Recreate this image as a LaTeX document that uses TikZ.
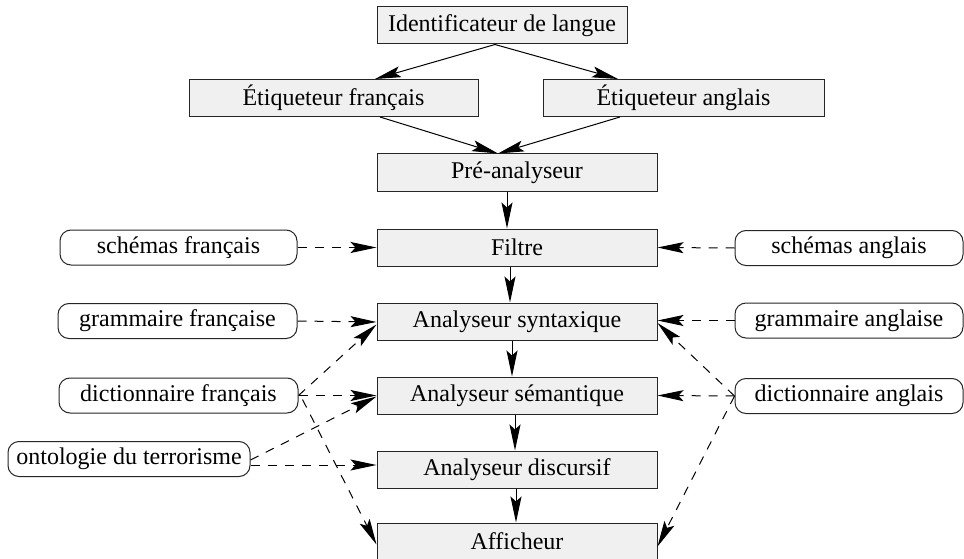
\documentclass[tikz,border=0pt]{standalone}
\usepackage{fontspec}
\setmainfont{Liberation Serif}
\usetikzlibrary{arrows.meta,calc}
\begin{document}
\begin{tikzpicture}[x=1pt,y=-1pt,
  every node/.style={font=\fontsize{24}{29}\selectfont, inner sep=0pt},
  procbox/.style={draw=black!85, line width=1pt, fill=black!6, minimum height=37pt},
  resbox/.style={draw=black!85, line width=1pt, rounded corners=11pt, fill=white, minimum height=35pt},
  flow/.style={line width=1pt, -{Stealth[length=26pt,width=11pt,inset=5pt]}},
  dflow/.style={flow, dash pattern=on 9pt off 8pt}]
\useasboundingbox (0,0) rectangle (964,559);
% processing chain
\node[procbox, minimum width=250pt] (ident) at (502,25.5) {Identificateur de langue};
\node[procbox, minimum width=289pt] (etfr) at (333.5,98) {Étiqueteur français};
\node[procbox, minimum width=281pt] (etan) at (683.5,98) {Étiqueteur anglais};
\node[procbox, minimum width=280pt] (pre) at (517,172.5) {Pré-analyseur};
\node[procbox, minimum width=280pt] (filtre) at (517,247.5) {Filtre};
\node[procbox, minimum width=280pt] (synt) at (517,321.5) {Analyseur syntaxique};
\node[procbox, minimum width=280pt] (sem) at (517,395.5) {Analyseur sémantique};
\node[procbox, minimum width=280pt] (disc) at (517,469.5) {Analyseur discursif};
\node[procbox, minimum width=280pt] (aff) at (517,541.5) {Afficheur};
% resources
\node[resbox, minimum width=237pt] (schfr) at (178.5,247.5) {schémas français};
\node[resbox, minimum width=239pt] (gramfr) at (177.5,321) {grammaire française};
\node[resbox, minimum width=239pt] (dictfr) at (178.5,395.5) {dictionnaire français};
\node[resbox, minimum width=242pt] (onto) at (129,459) {ontologie du terrorisme};
\node[resbox, minimum width=228pt] (schan) at (849,248) {schémas anglais};
\node[resbox, minimum width=228pt] (graman) at (849,320.5) {grammaire anglaise};
\node[resbox, minimum width=228pt] (dictan) at (849,396) {dictionnaire anglais};
% solid flow
\draw[flow] ($(ident.south)+(-7,0)$) -- ($(etfr.north)+(41.5,0)$);
\draw[flow] ($(ident.south)+(-7,0)$) -- ($(etan.north)+(-65.5,0)$);
\draw[flow] ($(etfr.south)+(46.5,0)$) -- ($(pre.north)+(-19,0)$);
\draw[flow] ($(etan.south)+(-63.5,0)$) -- ($(pre.north)+(-19,0)$);
\draw[flow] ($(pre.south)+(-10,0)$) -- ($(filtre.north)+(-10,0)$);
\draw[flow] ($(filtre.south)+(-7,0)$) -- ($(synt.north)+(-7,0)$);
\draw[flow] ($(synt.south)+(-5,0)$) -- ($(sem.north)+(-5,0)$);
\draw[flow] ($(sem.south)+(-2,0)$) -- ($(disc.north)+(-2,0)$);
\draw[flow] ($(disc.south)+(-1,0)$) -- ($(aff.north)+(-1,0)$);
% dashed resource links
\draw[dflow] (schfr.east) -- (filtre.west);
\draw[dflow] (schan.west) -- (filtre.east);
\draw[dflow] (gramfr.east) -- ($(synt.west)+(0,0.5)$);
\draw[dflow] (graman.west) -- ($(synt.east)+(0,-1)$);
\draw[dflow] (dictfr.east) -- ($(synt.west)+(0,3)$);
\draw[dflow] (dictfr.east) -- (sem.west);
\draw[dflow] ($(dictfr.east)+(4,4)$) -- ($(aff.west)+(0,3)$);
\draw[dflow] ($(onto.east)+(0,1)$) -- ($(sem.west)+(0,1)$);
\draw[dflow] ($(onto.east)+(0,6)$) -- ($(disc.west)+(0,-4.5)$);
\draw[dflow] (dictan.west) -- (sem.east);
\draw[dflow] (dictan.west) -- ($(synt.east)+(0,1.5)$);
\draw[dflow] (dictan.west) -- ($(aff.east)+(0,5)$);
\end{tikzpicture}
\end{document}
